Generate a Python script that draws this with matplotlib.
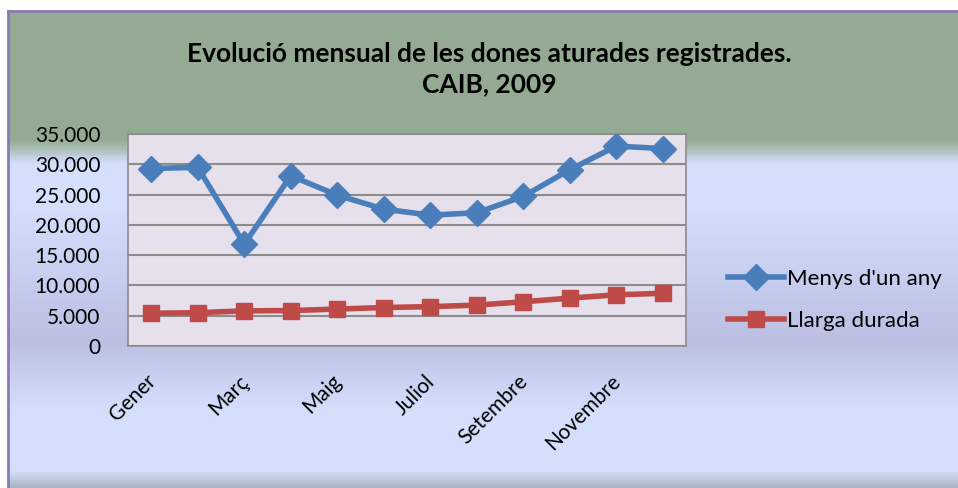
import numpy as np
import matplotlib
matplotlib.use('Agg')
import matplotlib.pyplot as plt
import matplotlib.transforms as mtransforms
from matplotlib.colors import LinearSegmentedColormap
from matplotlib.ticker import FuncFormatter

# ---------------- data ----------------
months = ['Gener', 'Febrer', 'Març', 'Abril', 'Maig', 'Juny',
          'Juliol', 'Agost', 'Setembre', 'Octubre', 'Novembre', 'Desembre']
menys_un_any = [29300, 29500, 16800, 28100, 24900, 22600,
                21600, 22000, 24700, 29100, 33000, 32600]
llarga_durada = [5400, 5500, 5800, 5850, 6100, 6350,
                 6500, 6750, 7300, 7900, 8450, 8700]

title = "Evolució mensual de les dones aturades registrades.\nCAIB, 2009"

plt.rcParams['font.family'] = ['Lato', 'DejaVu Sans']

fig = plt.figure(figsize=(9.58, 4.88), dpi=100)

# ---------------- background gradient ----------------
bg = fig.add_axes([0, 0, 1, 1], zorder=-10)
stops = [
    (0.0, '#94aa92'),
    (0.285, '#94aa92'),
    (0.335, '#d4dffc'),
    (0.42, '#d4dffc'),
    (0.70, '#bcbfe3'),
    (0.84, '#d4dffc'),
    (0.968, '#d4dffc'),
    (1.0, '#a9b8c2'),
]
cmap = LinearSegmentedColormap.from_list('bg', stops)
grad = np.linspace(0, 1, 488).reshape(-1, 1)
bg.imshow(grad, aspect='auto', cmap=cmap, extent=[0, 958, 488, 0])
bg.set_xlim(0, 958)
bg.set_ylim(488, 0)
bg.axis('off')
# white strip above / left of the chart area and the purple frame
bg.fill_between([0, 958], 0, 10, color='white', zorder=2)
bg.fill_between([0, 8], 0, 488, color='white', zorder=2)
bg.plot([8.5, 958], [10.5, 10.5], color='#8e78b4', lw=2, zorder=3)
bg.plot([8.5, 8.5], [10.5, 488], color='#8e78b4', lw=2, zorder=3)

# ---------------- plot ----------------
ax = fig.add_axes([128 / 958, (488 - 346) / 488, 558 / 958, 212 / 488])
ax.set_facecolor('#e5e0ec')
x = np.arange(len(months))

ax.plot(x, menys_un_any, color='#4a7ebb', lw=4, marker='D', markersize=13,
        label="Menys d'un any", zorder=3)
ax.plot(x, llarga_durada, color='#be4b48', lw=4, marker='s', markersize=12,
        label='Llarga durada', zorder=3)

ax.set_xlim(-0.5, len(months) - 0.5)
ax.set_ylim(0, 35000)
ax.set_yticks(np.arange(0, 35001, 5000))
ax.yaxis.set_major_formatter(FuncFormatter(lambda v, p: f'{int(v):,}'.replace(',', '.')))
ax.grid(axis='y', color='#8c8c8c', lw=1.5)
ax.set_axisbelow(True)
ax.set_xticks(x[::2])
ax.set_xticklabels(months[::2], rotation=45, ha='right', rotation_mode='anchor',
                   fontsize=15)
ax.tick_params(axis='both', length=0)
ax.tick_params(axis='y', labelsize=15, pad=20)
ax.tick_params(axis='x', pad=18)
shift = mtransforms.ScaledTranslation(-6 / 100, 0, fig.dpi_scale_trans)
for lab in ax.get_xticklabels():
    lab.set_transform(lab.get_transform() + shift)
for s in ax.spines.values():
    s.set_color('#8c8c8c')
    s.set_linewidth(1.2)

fig.text(489 / 958, 1 - 69 / 488, title, ha='center', va='center',
         fontsize=19, fontweight='bold', linespacing=1.3)

fig.legend(loc='center left', bbox_to_anchor=(708 / 958, 1 - 300 / 488),
           frameon=False, fontsize=16, handlelength=2.5, labelspacing=1.0,
           handletextpad=0.15)

fig.savefig('out.png', dpi=100)
